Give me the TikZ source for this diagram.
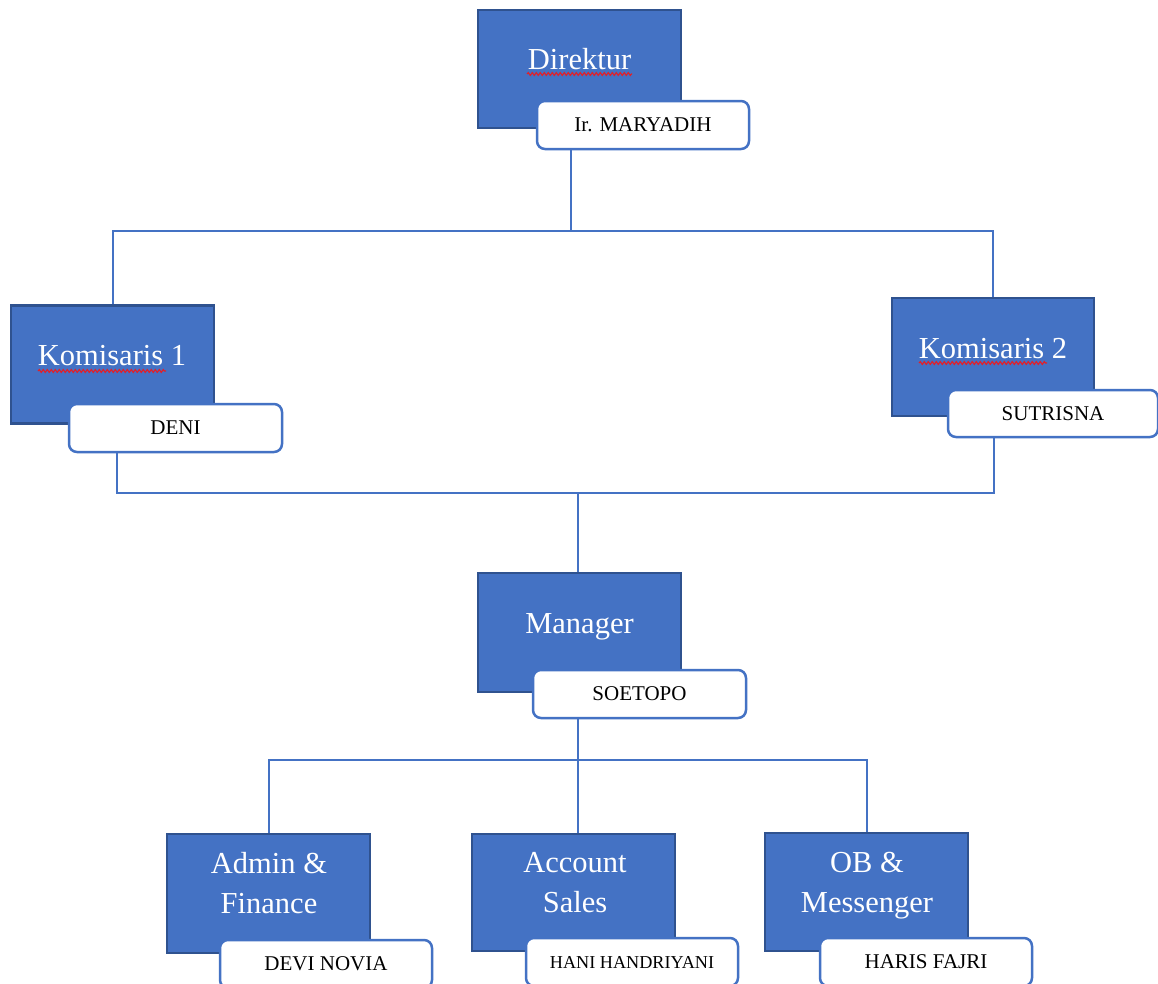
\documentclass[tikz,border=0pt]{standalone}
\usepackage{fontspec}
\setmainfont{Liberation Serif}
\usetikzlibrary{decorations.pathmorphing,calc}
\definecolor{boxblue}{HTML}{4472C4}
\definecolor{boxedge}{HTML}{2F528F}
\definecolor{spellred}{HTML}{E0202A}
\begin{document}
\begin{tikzpicture}[x=1pt,y=-1pt,
  role/.style={draw=boxedge, line width=2.2pt, fill=boxblue, minimum width=203pt, minimum height=118pt, inner sep=0pt},
  roletext/.style={text=white, font=\fontsize{30.5}{40}\selectfont, align=center, anchor=base, inner sep=0pt},
  namebox/.style={draw=boxblue, line width=2.5pt, fill=white, rounded corners=8pt, minimum width=212pt, minimum height=48pt, inner sep=0pt, text=black, font=\fontsize{21}{24}\selectfont},
  link/.style={draw=boxblue, line width=2pt},
  spell/.style={draw=spellred, line width=1.2pt, decorate, decoration={snake, amplitude=1.4pt, segment length=4pt}}]
\clip (0,0) rectangle (1158,983);
\fill[white] (0,0) rectangle (1158,983);

% Direktur
\node[role] (dir) at (579.5,69) {};
\node[roletext] (dirT) at (579.5,69) {Direktur};
\node[namebox] (dirL) at (643,125) {Ir. MARYADIH};

% Komisaris 1
\node[role] (kom1) at (112.5,364.5) {};
\node[roletext] (kom1T) at (112,365) {Komisaris 1};
\node[namebox, minimum width=213pt] (kom1L) at (175.5,428) {DENI};

% Komisaris 2
\node[role, minimum width=202pt] (kom2) at (993,357) {};
\node[roletext] (kom2T) at (993,358) {Komisaris 2};
\node[namebox, minimum width=210pt, minimum height=47pt] (kom2L) at (1053,413.5) {SUTRISNA};

% Manager
\node[role, minimum height=119pt] (mgr) at (579.5,632.5) {};
\node[roletext] (mgrT) at (579.5,633) {Manager};
\node[namebox, minimum width=213pt] (mgrL) at (639.5,694) {SOETOPO};

% Admin & Finance
\node[role, minimum height=119pt] (adm) at (268.5,893.5) {};
\node[roletext] (admT) at (269,913) {Admin \&\\Finance};
\node[namebox] (admL) at (326,964) {DEVI NOVIA};

% Account Sales
\node[role, minimum height=117pt] (acc) at (573.5,892.5) {};
\node[roletext] (accT) at (575,912) {Account\\Sales};
\node[namebox, font=\fontsize{18.2}{21}\selectfont] (accL) at (632,962) {HANI HANDRIYANI};

% OB & Messenger
\node[role] (ob) at (866.5,892) {};
\node[roletext] (obT) at (867,912) {OB \&\\Messenger};
\node[namebox] (obL) at (926,962) {HARIS FAJRI};

% connectors
\coordinate (j1) at (571,231);
\draw[link] (j1 |- dirL.south) -- (j1);
\draw[link] (kom1.north) |- (j1) -| (kom2.north);

\coordinate (j2) at (578,493);
\coordinate (kom1out) at ($(kom1L.south west)+(49,0)$);
\coordinate (kom2out) at ($(kom2L.south west)+(47,0)$);
\draw[link] (kom1out) |- (j2) -| (kom2out);
\draw[link] (j2) -- (j2 |- mgr.north);

\coordinate (j3) at (578,760);
\draw[link] (j3 |- mgrL.south) -- (j3);
\draw[link] (adm.north) |- (j3) -| (ob.north);
\draw[link] (j3) -- (j3 |- acc.north);

% spell-check underlines
\draw[spell] (527,74) -- (632,74);
\draw[spell] (38,371) -- (166,371);
\draw[spell] (919,363) -- (1047,363);
\end{tikzpicture}
\end{document}
